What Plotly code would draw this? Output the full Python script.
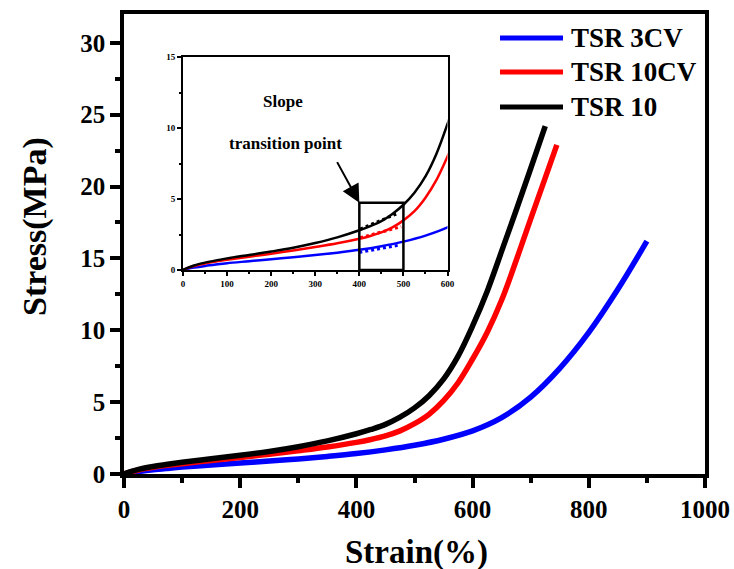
import plotly.graph_objects as go

# ---- tensile test data: strain (%) vs stress (MPa) ----
series_names = ["TSR 3CV", "TSR 10CV", "TSR 10"]
series_colors = ["#0000FF", "#FF0000", "#000000"]

strain_3cv = [0, 10, 25, 50, 75, 100, 150, 200, 250, 300, 350, 400, 450, 500, 550,
              600, 650, 700, 750, 800, 850, 900]
stress_3cv = [0, 0.08, 0.17, 0.29, 0.39, 0.48, 0.62, 0.76, 0.90, 1.05, 1.22, 1.42,
              1.68, 2.00, 2.42, 3.00, 3.92, 5.35, 7.35, 9.85, 12.85, 16.20]

strain_10cv = [0, 10, 25, 50, 75, 100, 150, 200, 250, 300, 350, 400, 425, 450, 475,
               500, 525, 550, 575, 600, 625, 650, 675, 700, 725, 745]
stress_10cv = [0, 0.13, 0.28, 0.46, 0.60, 0.72, 0.94, 1.15, 1.38, 1.62, 1.88, 2.20,
               2.40, 2.65, 3.00, 3.50, 4.15, 5.10, 6.35, 8.00, 9.85, 12.10, 14.85,
               17.75, 20.60, 22.90]

strain_10 = [0, 10, 25, 50, 75, 100, 150, 200, 250, 300, 350, 400, 425, 450, 475,
             500, 525, 550, 575, 600, 625, 650, 675, 700, 725]
stress_10 = [0, 0.15, 0.32, 0.52, 0.68, 0.82, 1.06, 1.30, 1.57, 1.90, 2.30, 2.80,
             3.10, 3.45, 3.95, 4.60, 5.45, 6.60, 8.20, 10.30, 12.70, 15.50, 18.35,
             21.25, 24.20]

# slope lines drawn from the transition region (start/end strain, start/end stress)
slope_strain = [[400, 491], [402, 495], [402, 487]]
slope_stress = [[1.24, 1.76], [2.28, 3.05], [2.89, 3.99]]

# transition window shown in the inset
window_strain = [400, 500]
window_stress = [0, 4.75]

main_x_ticks = [0, 200, 400, 600, 800, 1000]
main_y_ticks = [0, 5, 10, 15, 20, 25, 30]
inset_x_ticks = [0, 100, 200, 300, 400, 500, 600]
inset_y_ticks = [0, 5, 10, 15]

strains = [strain_3cv, strain_10cv, strain_10]
stresses = [stress_3cv, stress_10cv, stress_10]

FONT = "Liberation Serif"

fig = go.Figure()

# main curves
for name, col, sx, sy in zip(series_names, series_colors, strains, stresses):
    fig.add_trace(go.Scatter(x=sx, y=sy, mode="lines", name=name,
                             line=dict(color=col, width=5.5, shape="spline", smoothing=1.0),
                             xaxis="x", yaxis="y", showlegend=False))

# inset curves
for name, col, sx, sy in zip(series_names, series_colors, strains, stresses):
    fig.add_trace(go.Scatter(x=sx, y=sy, mode="lines", name=name,
                             line=dict(color=col, width=2.5, shape="spline", smoothing=1.0),
                             xaxis="x2", yaxis="y2", showlegend=False))

# dotted slope extensions in the inset
for col, sx, sy in zip(series_colors, slope_strain, slope_stress):
    fig.add_trace(go.Scatter(x=sx, y=sy, mode="lines",
                             line=dict(color=col, width=3, dash="dot"),
                             xaxis="x2", yaxis="y2", showlegend=False, hoverinfo="skip"))

# plot area in pixels: left 124, right 705, top 14, bottom 474
L, R, T, B = 124, 705, 14, 474
W, H = 734, 569


def px_x(p):
    return (p - L) / (R - L)


def px_y(p):
    return (B - p) / (B - T)


axis_common = dict(showgrid=False, zeroline=False, showline=True, linecolor="black",
                   mirror=True, ticks="outside", tickcolor="black", automargin=False)

fig.update_layout(
    width=W, height=H,
    margin=dict(l=L, r=W - R, t=T, b=H - B, autoexpand=False),
    paper_bgcolor="white", plot_bgcolor="white",
    font=dict(family=FONT, color="black", weight="bold"),
    xaxis=dict(axis_common, domain=[0, 1], range=[0, 1000], tickvals=main_x_ticks,
               linewidth=3.5, ticklen=10, tickwidth=3.5,
               tickfont=dict(family=FONT, size=25, weight="bold"),
               minor=dict(dtick=100, ticklen=5, tickwidth=3.5, ticks="outside",
                          tickcolor="black", showgrid=False),
               anchor="y"),
    yaxis=dict(axis_common, domain=[0, 1], range=[0, 32], tickvals=main_y_ticks,
               linewidth=3.5, ticklen=10, tickwidth=3.5,
               tickfont=dict(family=FONT, size=25, weight="bold"),
               minor=dict(dtick=2.5, ticklen=5, tickwidth=3.5, ticks="outside",
                          tickcolor="black", showgrid=False),
               anchor="x"),
    xaxis2=dict(axis_common, domain=[px_x(183), px_x(447.5)], range=[0, 600],
                tickvals=inset_x_ticks, linewidth=2, ticklen=4, tickwidth=1.5,
                tickfont=dict(family=FONT, size=9, weight="bold"),
                minor=dict(dtick=50, ticklen=2, tickwidth=1.5, ticks="outside",
                           tickcolor="black", showgrid=False),
                anchor="y2"),
    yaxis2=dict(axis_common, domain=[px_y(270), px_y(57.3)], range=[0, 15],
                tickvals=inset_y_ticks, linewidth=2, ticklen=4, tickwidth=1.5,
                tickfont=dict(family=FONT, size=9, weight="bold"),
                minor=dict(dtick=2.5, ticklen=2, tickwidth=1.5, ticks="outside",
                           tickcolor="black", showgrid=False),
                anchor="x2"),
)

shapes = []
# transition window box in the inset
shapes.append(dict(type="rect", xref="x2", yref="y2",
                   x0=window_strain[0], x1=window_strain[1],
                   y0=window_stress[0], y1=window_stress[1],
                   line=dict(color="black", width=2.5)))

annotations = []
# legend drawn as line samples with labels
legend_rows = [38, 72, 107]
for name, col, row in zip(series_names, series_colors, legend_rows):
    shapes.append(dict(type="line", xref="paper", yref="paper",
                       x0=px_x(500), x1=px_x(563), y0=px_y(row), y1=px_y(row),
                       line=dict(color=col, width=5)))
    annotations.append(dict(xref="paper", yref="paper", x=px_x(569), y=px_y(row),
                            xanchor="left", yanchor="middle", showarrow=False,
                            text=name, font=dict(family=FONT, size=27, weight="bold")))

# axis titles
annotations.append(dict(xref="paper", yref="paper", x=px_x(416), y=px_y(552),
                        xanchor="center", yanchor="middle", showarrow=False,
                        text="Strain(%)", font=dict(family=FONT, size=33, weight="bold")))
annotations.append(dict(xref="paper", yref="paper", x=px_x(35), y=px_y(227),
                        xanchor="center", yanchor="middle", showarrow=False, textangle=-90,
                        text="Stress(MPa)", font=dict(family=FONT, size=34, weight="bold")))

# inset labels and arrow
annotations.append(dict(xref="x2", yref="y2", x=227, y=11.85, showarrow=False,
                        text="Slope", font=dict(family=FONT, size=17, weight="bold")))
annotations.append(dict(xref="x2", yref="y2", x=233, y=8.94, showarrow=False,
                        text="transition point", font=dict(family=FONT, size=17, weight="bold")))
annotations.append(dict(xref="x2", yref="y2", x=window_strain[0], y=window_stress[1],
                        ax=-23, ay=-42, showarrow=True, text="",
                        arrowhead=2, arrowsize=1.8, arrowwidth=2, arrowcolor="black"))

fig.update_layout(shapes=shapes, annotations=annotations)

fig.write_html("out.html")
